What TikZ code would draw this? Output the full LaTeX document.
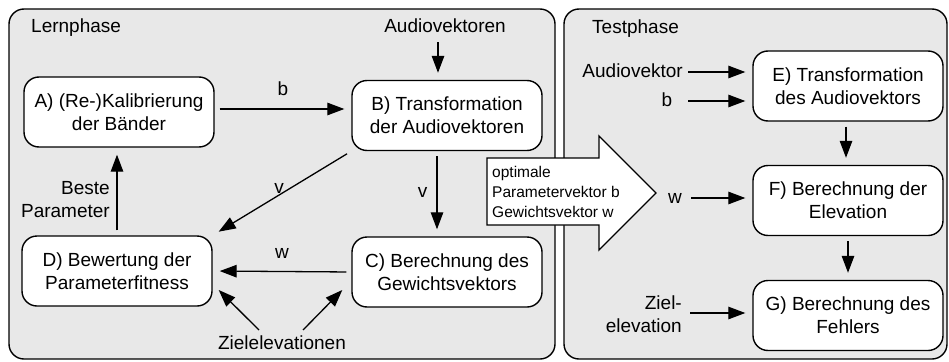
\documentclass[tikz,border=0pt]{standalone}
\usepackage{fontspec}
\setmainfont{Liberation Sans}
\usetikzlibrary{arrows.meta,calc}
\begin{document}
\begin{tikzpicture}[x=1pt,y=-1pt,
  panel/.style={draw=black,line width=1.4pt,fill=black!9,rounded corners=15pt},
  box/.style={draw=black,line width=1.4pt,fill=white,rounded corners=15pt,
    minimum width=190pt,minimum height=70pt,align=center,inner sep=0pt,
    font=\fontsize{19}{23}\selectfont},
  lbl/.style={inner sep=0pt,font=\fontsize{19}{23}\selectfont,text height=14pt,text depth=4pt},
  mlbl/.style={inner sep=0pt,font=\fontsize{19}{23}\selectfont,align=right},
  arr/.style={line width=1.3pt,-{Triangle[length=17pt,width=12.5pt]},shorten <=5pt,shorten >=7pt}]
\useasboundingbox (0,0) rectangle (949,361);
% panels
\draw[panel] (9,9) rectangle (555,359);
\draw[panel] (564,9) rectangle (947,359);
\node[lbl,anchor=west] (lern) at (31,28) {Lernphase};
\node[lbl,anchor=west] (test) at (592,29) {Testphase};
% left nodes
\node[box] (A) at (119,112) {A) (Re-)Kalibrierung\\der Bänder};
\node[box] (B) at (447,115.5) {B) Transformation\\der Audiovektoren};
\node[box] (C) at (447,272) {C) Berechnung des\\Gewichtsvektors};
\node[box] (D) at (117,271) {D) Bewertung der\\Parameterfitness};
\node[lbl] (av) at (445,28) {Audiovektoren};
\node[lbl] (zl) at (282,344) {Zielelevationen};
\coordinate (z1) at (259,330);
\coordinate (z2) at (303,330);
% left connectors
\draw[arr] ($(av.south)+(-7,0)$) -- ($(B.north)+(-9,0)$);
\draw[arr] (A.east |- 0,109) -- (B.west |- 0,109) node[lbl,midway,above=9pt] (lb) {b};
\draw[arr] ($(B.south)+(-10,0)$) -- ($(C.north)+(-10,0)$) node[lbl,pos=0.48,left=9pt] (lv1) {v};
\draw[arr] (B.south west) -- (D.north east);
\node[lbl] (lv2) at (279,188) {v};
\draw[arr] (C.west) -- (D.east) node[lbl,midway,above=8pt] (lw) {w};
\draw[arr] (D.north) -- (D.north |- A.south);
\node[mlbl,anchor=east] (beste) at (110,199.5) {Beste\\Parameter};
\draw[arr,shorten <=0pt,shorten >=0pt] (z1) -- ($(D.east)+(6,19)$);
\draw[arr,shorten <=0pt,shorten >=0pt] (z2) -- ($(C.west)+(-9,18)$);
% big arrow
\draw[line width=1.3pt,fill=white,line join=miter] (487,158) -- (599,158) -- (599,136) -- (656,193) -- (599,250) -- (599,225) -- (487,225) -- cycle;
\node[inner sep=0pt,anchor=west,align=left,font=\fontsize{15.5}{20}\selectfont] (opt) at (492,192) {optimale\\Parametervektor b\\Gewichtsvektor w};
% right nodes
\node[box] (E) at (848,86) {E) Transformation\\des Audiovektors};
\node[box] (F) at (848,200.5) {F) Berechnung der\\Elevation};
\node[box] (G) at (848,315.5) {G) Berechnung des\\Fehlers};
\node[lbl,anchor=east] (ava) at (683,72) {Audiovektor};
\node[lbl] (rb) at (667,101) {b};
\node[lbl] (rw) at (675,198) {w};
\node[mlbl,anchor=east] (ziel) at (682,314) {Ziel-\\elevation};
\coordinate (zt) at (682,313);
\draw[arr] (ava.east) -- (ava.east -| E.west);
\draw[arr,shorten <=16pt] (rb.east) -- (rb.east -| E.west);
\draw[arr,shorten <=9pt] (rw.east) -- (rw.east -| F.west);
\draw[arr,shorten <=8pt] (zt) -- (zt -| G.west);
\draw[arr] ($(E.south)+(-2,0)$) -- ($(F.north)+(-2,0)$);
\draw[arr] (F.south) -- (G.north);
\end{tikzpicture}
\end{document}
